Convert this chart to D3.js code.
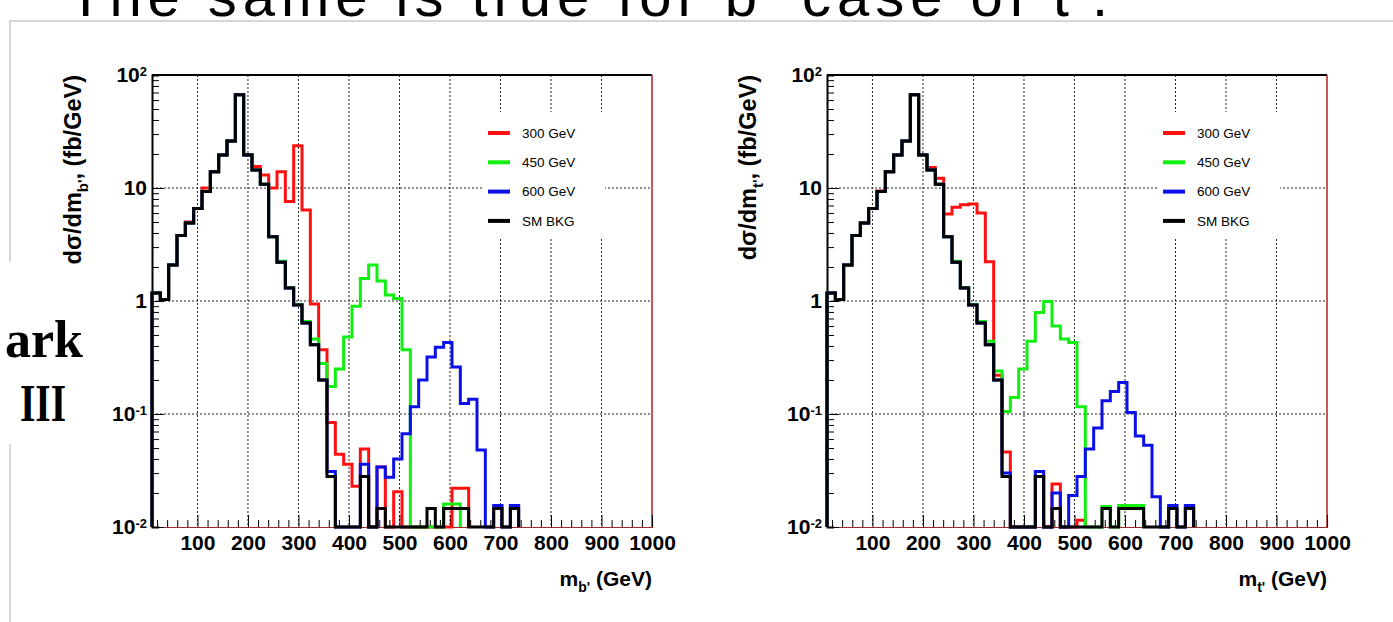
<!DOCTYPE html>
<html>
<head>
<meta charset="utf-8">
<script src="https://cdn.jsdelivr.net/npm/d3@7"></script>
<style>
  body { margin: 0; background: #fff; }
  svg { display: block; }
  text { font-family: "Liberation Sans", Arial, sans-serif; }
</style>
</head>
<body>
<svg id="chart" width="1393" height="622"></svg>
<script>
// histogram binning: 60 bins of 16.5 GeV from 10 to 1000 GeV
var binStart = 10, binWidth = 16.5, nBins = 60;
var edges = d3.range(nBins + 1).map(function (i) { return binStart + binWidth * i; });

// SM background (same in both plots), fb/GeV per bin
var smBkg = [1.18, 1.03, 2.08, 3.8, 4.9, 6.6, 9.3, 13.9, 19.6, 26, 67, 19.6, 14.4, 10.8, 3.7, 2.2, 1.3, 0.92, 0.64, 0.41,
             0.2, 0.028, 0, 0, 0, 0.028, 0, 0.0146, 0, 0, 0, 0, 0, 0.0146, 0, 0.0146, 0.0146, 0.0146, 0, 0,
             0, 0.0146, 0, 0.0146];

// b' plot
var bp300 = [1.18, 1.03, 2.08, 3.8, 5.0, 6.6, 10.0, 13.9, 19.6, 26, 67, 19.8, 15.5, 13, 10, 13.9, 7.6, 23.6, 6.4, 0.94,
             0.37, 0.084, 0.044, 0.036, 0.023, 0.049, 0, 0.034, 0, 0.0205, 0, 0, 0, 0, 0, 0, 0.022, 0.022];
var bp450 = [1.18, 1.03, 2.08, 3.8, 4.9, 6.6, 9.3, 13.9, 19.6, 26, 67, 19.6, 14.4, 10.8, 3.7, 2.25, 1.32, 0.93, 0.66, 0.46,
             0.28, 0.175, 0.25, 0.48, 0.9, 1.58, 2.08, 1.5, 1.13, 1.05, 0.37, 0, 0, 0, 0, 0.016, 0.016];
var bp600 = [1.18, 1.03, 2.08, 3.8, 4.9, 6.6, 9.3, 13.9, 19.6, 26, 67, 19.6, 14.4, 10.8, 3.7, 2.2, 1.3, 0.92, 0.64, 0.41,
             0.2, 0.031, 0, 0, 0, 0.036, 0, 0.034, 0.0275, 0.04, 0.067, 0.116, 0.2, 0.32, 0.39, 0.43, 0.26, 0.124, 0.135, 0.048,
             0, 0.0155, 0, 0.0155];

// t' plot
var tp300 = [1.18, 1.03, 2.08, 3.8, 4.9, 6.6, 9.4, 13.9, 19.6, 26, 67, 19.6, 15.2, 12.2, 5.9, 6.75, 7.1, 7.2, 6.0, 2.23,
             0.22, 0.046, 0, 0, 0, 0.028, 0, 0.024, 0, 0, 0.0115];
var tp450 = [1.18, 1.03, 2.08, 3.8, 4.9, 6.6, 9.3, 13.9, 19.6, 26, 67, 19.6, 14.4, 10.8, 3.7, 2.25, 1.32, 0.93, 0.66, 0.44,
             0.24, 0.105, 0.14, 0.25, 0.44, 0.79, 0.99, 0.6, 0.46, 0.43, 0.116, 0, 0, 0.0152, 0, 0.0155, 0.0155, 0.0155];
var tp600 = [1.18, 1.03, 2.08, 3.8, 4.9, 6.6, 9.3, 13.9, 19.6, 26, 67, 19.6, 14.4, 10.8, 3.7, 2.2, 1.3, 0.92, 0.64, 0.41,
             0.2, 0.03, 0, 0, 0, 0.031, 0, 0.02, 0, 0.019, 0.028, 0.049, 0.075, 0.131, 0.158, 0.19, 0.103, 0.064, 0.053, 0.0185,
             0, 0.0155, 0, 0.0155];

var legendNames = ["300 GeV", "450 GeV", "600 GeV", "SM BKG"];
var colors = ["#ff1010", "#10f010", "#0a10e6", "#000000"];
var xTicks = [100, 200, 300, 400, 500, 600, 700, 800, 900, 1000];
var yTicks = [0.01, 0.1, 1, 10, 100];

var panels = [
  { left: 152, sub: "b'", series: [bp300, bp450, bp600, smBkg] },
  { left: 827, sub: "t'", series: [tp300, tp450, tp600, smBkg] }
];

var svg = d3.select("#chart");
var top_ = 75, bottom = 527, plotW = 500;

// slide leftovers: title cut by the top edge, frame, side text
svg.append("text")
  .attr("x", 68).attr("y", 16)
  .attr("textLength", 1040).attr("lengthAdjust", "spacing")
  .style("font-size", "58px")
  .text("The same is true for b' case of t'.");

svg.append("path")
  .attr("d", "M10,622 L10,21 L1393,21")
  .style("fill", "none").style("stroke", "#d6d6d6").style("stroke-width", 2);

svg.append("rect").attr("x", 0).attr("y", 262).attr("width", 88).attr("height", 182).style("fill", "#fff");
svg.append("text").attr("x", 83).attr("y", 357).attr("text-anchor", "end")
  .style("font-family", "'Liberation Serif', 'Times New Roman', serif").style("font-weight", "bold").style("font-size", "52px")
  .text("ark");
svg.append("text").attr("x", 20).attr("y", 421)
  .attr("textLength", 46).attr("lengthAdjust", "spacingAndGlyphs")
  .style("font-family", "'Liberation Serif', 'Times New Roman', serif").style("font-weight", "bold").style("font-size", "52px")
  .text("III");

panels.forEach(function (p) {
  var x = d3.scaleLinear().domain([binStart, 1000]).range([p.left, p.left + plotW]);
  var y = d3.scaleLog().domain([0.01, 100]).range([bottom, top_]);
  var g = svg.append("g");

  // dotted grid
  g.selectAll(".gx").data(xTicks.slice(0, -1)).enter().append("line")
    .attr("x1", function (d) { return x(d); }).attr("x2", function (d) { return x(d); })
    .attr("y1", top_).attr("y2", bottom)
    .style("stroke", "#222").style("stroke-width", 1).style("stroke-dasharray", "2,2");
  g.selectAll(".gy").data([0.1, 1, 10]).enter().append("line")
    .attr("x1", p.left).attr("x2", p.left + plotW)
    .attr("y1", function (d) { return y(d); }).attr("y2", function (d) { return y(d); })
    .style("stroke", "#222").style("stroke-width", 1).style("stroke-dasharray", "2,2");

  // frame: top black, right dark red
  g.append("line").attr("x1", p.left).attr("x2", p.left + plotW).attr("y1", top_).attr("y2", top_)
    .style("stroke", "#000").style("stroke-width", 2);
  g.append("line").attr("x1", p.left + plotW).attr("x2", p.left + plotW).attr("y1", top_).attr("y2", bottom)
    .style("stroke", "#b02020").style("stroke-width", 1.5);

  // x axis
  var minorX = d3.range(20, 1000, 20).filter(function (d) { return d % 100 !== 0; });
  var xMinor = g.append("g").attr("transform", "translate(0," + bottom + ")")
    .call(d3.axisBottom(x).tickValues(minorX).tickSize(-7).tickFormat(""));
  var xAxis = g.append("g").attr("transform", "translate(0," + bottom + ")")
    .call(d3.axisBottom(x).tickValues(xTicks).tickSize(-12).tickPadding(8).tickFormat(d3.format("d")));
  xMinor.select(".domain").style("stroke", "#a02828").style("stroke-width", 1.2);
  xAxis.select(".domain").remove();
  xAxis.selectAll("text").style("font-size", "21px").style("font-weight", "bold").style("fill", "#000");

  // y axis
  var minorY = [];
  [0.01, 0.1, 1, 10].forEach(function (dec) {
    d3.range(2, 10).forEach(function (m) { minorY.push(dec * m); });
  });
  var yMinor = g.append("g").attr("transform", "translate(" + p.left + ",0)")
    .call(d3.axisLeft(y).tickValues(minorY).tickSize(-7).tickFormat(""));
  var yAxis = g.append("g").attr("transform", "translate(" + p.left + ",0)")
    .call(d3.axisLeft(y).tickValues(yTicks).tickSize(-12).tickPadding(5));
  yMinor.select(".domain").style("stroke", "#000").style("stroke-width", 2);
  yAxis.select(".domain").remove();
  yAxis.selectAll("text").style("font-size", "21px").style("font-weight", "bold").style("fill", "#000")
    .each(function (d) {
      var t = d3.select(this).text(null);
      var e = Math.round(Math.log10(d));
      if (e === 0) { t.text("1"); return; }
      t.append("tspan").text("10");
      if (e !== 1) t.append("tspan").attr("dy", "-0.45em").style("font-size", "13px").text(String(e));
    });

  // titles
  var xt = g.append("text").attr("x", p.left + plotW).attr("y", 586).attr("text-anchor", "end")
    .style("font-size", "21px").style("font-weight", "bold");
  xt.append("tspan").text("m");
  xt.append("tspan").attr("dy", 6).style("font-size", "14px").text(p.sub);
  xt.append("tspan").attr("dy", -6).text(" (GeV)");

  var yt = g.append("text").attr("transform", "translate(" + (p.left - 71) + "," + top_ + ") rotate(-90)")
    .attr("text-anchor", "end").style("font-size", "23.5px").style("font-weight", "bold");
  yt.append("tspan").text("d\u03c3/dm");
  yt.append("tspan").attr("dy", 7).style("font-size", "15px").text(p.sub);
  yt.append("tspan").attr("dy", -7).text(", (fb/GeV)");

  // histograms as step outlines
  var line = d3.line().x(function (d) { return x(d[0]); }).y(function (d) { return y(d[1]); });
  p.series.forEach(function (vals, k) {
    var last = 0;
    vals.forEach(function (v, i) { if (v > 0) last = i; });
    var pts = [[edges[0], 0.01]];
    for (var i = 0; i <= last; i++) {
      var v = vals[i] > 0.01 ? Math.min(vals[i], 100) : 0.01;
      pts.push([edges[i], v], [edges[i + 1], v]);
    }
    pts.push([edges[last + 1], 0.01]);
    g.append("path").attr("d", line(pts))
      .style("fill", "none").style("stroke", colors[k]).style("stroke-width", 3)
      .style("stroke-linejoin", "miter");
  });

  // legend
  var lg = g.append("g").attr("transform", "translate(" + (p.left + 331) + ",112)");
  lg.append("rect").attr("width", 122).attr("height", 125).style("fill", "#fff");
  legendNames.forEach(function (name, k) {
    var ly = 21 + k * 29.3;
    lg.append("line").attr("x1", 5).attr("x2", 27).attr("y1", ly).attr("y2", ly)
      .style("stroke", colors[k]).style("stroke-width", 4);
    lg.append("text").attr("x", 39).attr("y", ly).attr("dy", "0.35em")
      .style("font-size", "13.5px").text(name);
  });
});
</script>
</body>
</html>
